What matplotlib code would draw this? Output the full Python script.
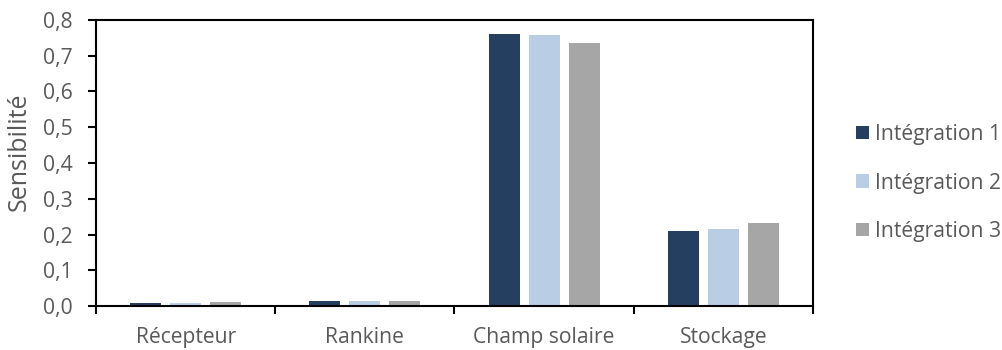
import numpy as np
import matplotlib.pyplot as plt

categories = ['Récepteur', 'Rankine', 'Champ solaire', 'Stockage']
series_names = ['Intégration 1', 'Intégration 2', 'Intégration 3']
integration_1 = [0.009, 0.015, 0.760, 0.211]
integration_2 = [0.008, 0.014, 0.757, 0.214]
integration_3 = [0.010, 0.014, 0.737, 0.233]
colors = ['#243F60', '#B9CDE5', '#A6A6A6']

plt.rcParams['font.family'] = ['Open Sans', 'DejaVu Sans']
text_color = '#595959'
fs = 15.2

W, H = 1003, 350
fig = plt.figure(figsize=(W / 100, H / 100), dpi=100)
ax = fig.add_axes([96 / W, 44 / H, 717 / W, 286 / H])

x = np.arange(len(categories))
width = 0.173
step = 0.223
for i, vals in enumerate([integration_1, integration_2, integration_3]):
    ax.bar(x + (i - 1) * step, vals, width, color=colors[i], label=series_names[i])

ax.set_xlim(-0.5, len(categories) - 0.5)
ax.set_ylim(0, 0.8)
ax.set_yticks(np.arange(0, 0.81, 0.1))
ax.set_yticklabels([f'{v:.1f}'.replace('.', ',') for v in np.arange(0, 0.81, 0.1)])
ax.set_xticks(x)
ax.set_xticklabels(categories)
ax.set_xticks(np.arange(-0.5, len(categories), 1), minor=True)
ax.tick_params(axis='x', which='major', length=0, pad=15, labelsize=fs, labelcolor=text_color)
ax.tick_params(axis='x', which='minor', length=6, width=1.5, direction='out')
ax.tick_params(axis='y', length=6, width=1.5, direction='out', labelsize=fs, labelcolor=text_color, pad=11)
for s in ax.spines.values():
    s.set_linewidth(1.5)

# y label sits a bit above the axis centre in the original
fig.text(19 / W, 1 - 152 / H, 'Sensibilité', rotation=90, ha='center', va='center',
         color=text_color, fontsize=18)

leg = ax.legend(loc='center left', bbox_to_anchor=(1.06, 0.43), frameon=False,
                borderpad=0, borderaxespad=0,
                handlelength=0.62, handleheight=0.62, handletextpad=0.28,
                labelspacing=1.3, fontsize=fs, labelcolor=text_color)

fig.savefig('out.png', dpi=100)
